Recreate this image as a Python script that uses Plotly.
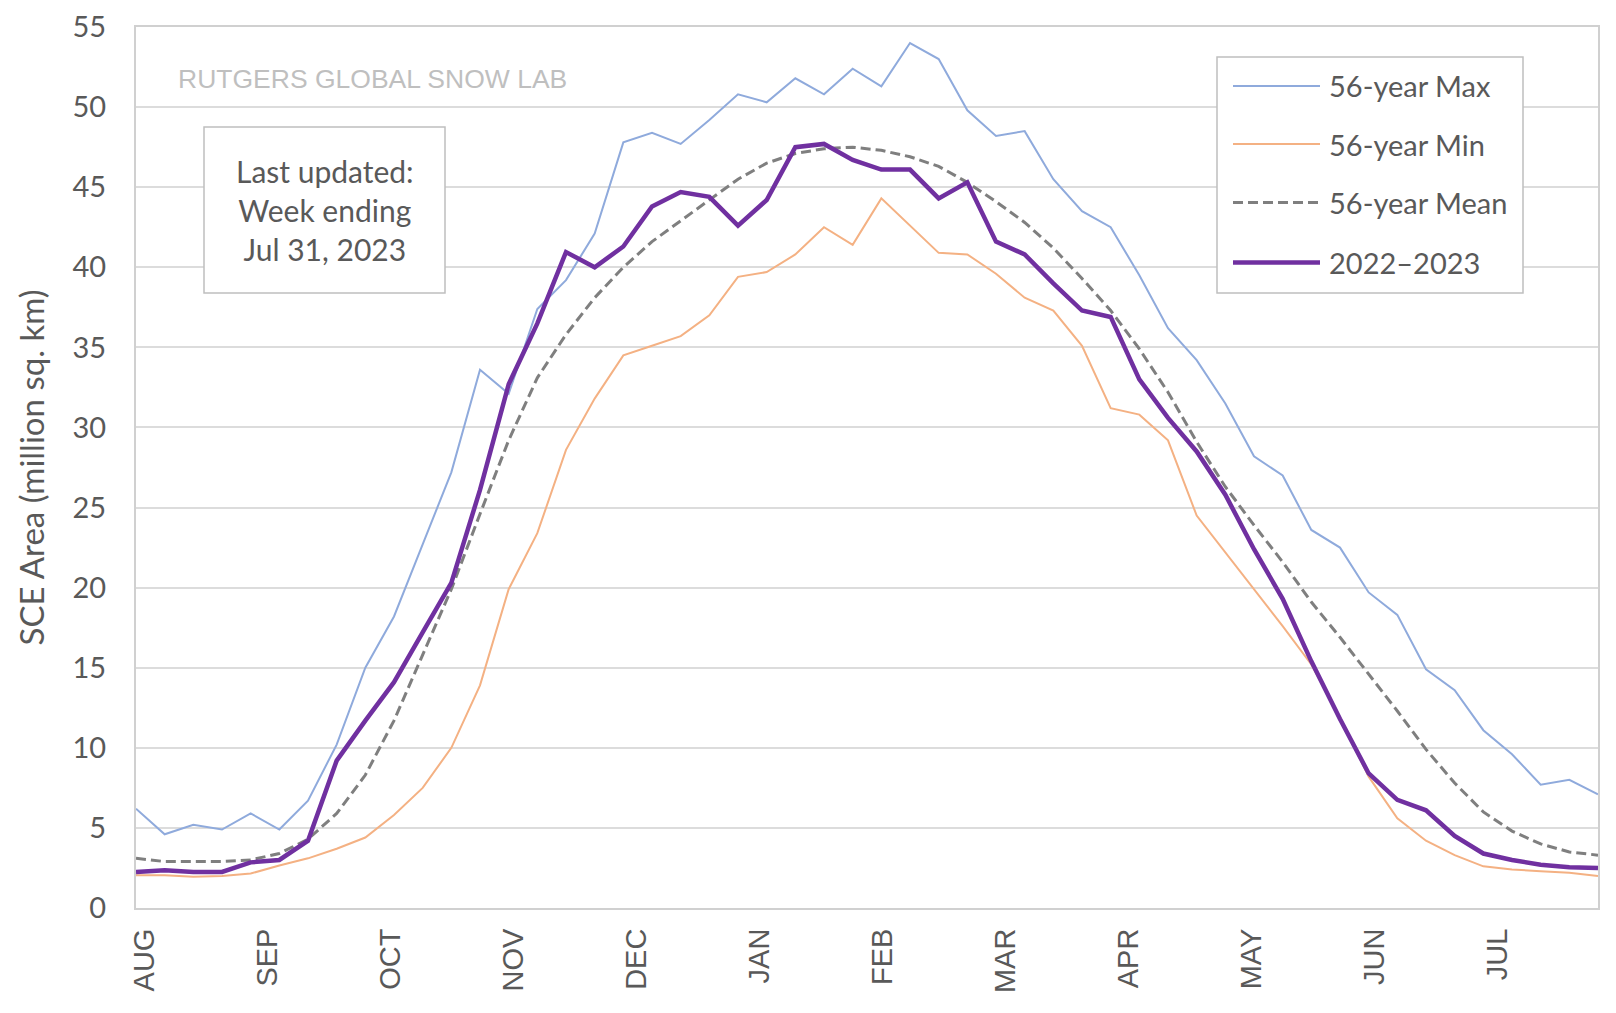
import plotly.graph_objects as go

# ---- data (weekly, Aug -> Jul) ----
months = ["AUG", "SEP", "OCT", "NOV", "DEC", "JAN", "FEB", "MAR", "APR", "MAY", "JUN", "JUL"]

max_56 = [6.2, 4.6, 5.2, 4.9, 5.9, 4.9, 6.7, 10.2, 15.0, 18.2, 22.7, 27.2, 33.6, 32.1,
          37.4, 39.2, 42.1, 47.8, 48.4, 47.7, 49.2, 50.8, 50.3, 51.8, 50.8, 52.4, 51.3,
          54.0, 53.0, 49.8, 48.2, 48.5, 45.5, 43.5, 42.5, 39.5, 36.2, 34.2, 31.5, 28.2,
          27.0, 23.6, 22.5, 19.7, 18.3, 14.9, 13.6, 11.1, 9.6, 7.7, 8.0, 7.1]

min_56 = [2.05, 2.05, 1.95, 2.0, 2.15, 2.65, 3.1, 3.7, 4.4, 5.8, 7.5, 10.0, 13.9, 19.9,
          23.4, 28.6, 31.8, 34.5, 35.1, 35.7, 37.0, 39.4, 39.7, 40.8, 42.5, 41.4, 44.3,
          42.6, 40.9, 40.8, 39.6, 38.1, 37.3, 35.1, 31.2, 30.8, 29.2, 24.5, 22.2, 19.9,
          17.6, 15.2, 11.9, 8.2, 5.6, 4.2, 3.3, 2.6, 2.4, 2.3, 2.2, 2.0]

mean_56 = [3.1, 2.9, 2.9, 2.9, 3.0, 3.4, 4.3, 5.9, 8.3, 11.7, 15.8, 19.9, 24.6, 29.2,
           33.1, 35.8, 38.1, 40.0, 41.6, 42.9, 44.2, 45.5, 46.5, 47.1, 47.4, 47.5, 47.3,
           46.9, 46.3, 45.3, 44.1, 42.8, 41.2, 39.3, 37.3, 34.9, 32.2, 29.1, 26.3, 23.9,
           21.6, 19.1, 16.9, 14.6, 12.3, 9.9, 7.8, 6.0, 4.8, 4.0, 3.5, 3.3]

season_2022_23 = [2.25, 2.35, 2.25, 2.25, 2.85, 3.0, 4.2, 9.2, 11.7, 14.1, 17.2, 20.3,
                  26.1, 32.7, 36.5, 40.95, 40.0, 41.3, 43.8, 44.7, 44.4, 42.6, 44.2,
                  47.5, 47.7, 46.7, 46.1, 46.1, 44.3, 45.3, 41.6, 40.8, 39.0, 37.3, 36.9,
                  33.0, 30.6, 28.5, 25.8, 22.4, 19.3, 15.4, 11.8, 8.4, 6.75, 6.1, 4.5,
                  3.4, 3.0, 2.7, 2.55, 2.5]

series_names = ["56-year Max", "56-year Min", "56-year Mean", "2022\u20132023"]

# ---- styles ----
C_MAX = "#8FAADC"
C_MIN = "#F4B183"
C_MEAN = "#7F7F7F"
C_CUR = "#7030A0"
TXT = "#595959"
FONT = "Lato"
MEAN_DASH = "10px,5px"

styles = [
    dict(color=C_MAX, width=2, dash="solid"),
    dict(color=C_MIN, width=2, dash="solid"),
    dict(color=C_MEAN, width=3, dash=MEAN_DASH),
    dict(color=C_CUR, width=4.5, dash="solid"),
]

weeks = list(range(len(max_56)))
fig = go.Figure()
for name, vals, st in zip(series_names, [max_56, min_56, mean_56, season_2022_23], styles):
    fig.add_trace(go.Scatter(x=weeks, y=vals, mode="lines", name=name,
                             line=st, showlegend=False, hoverinfo="x+y+name"))

tick_pos = [0.29 + 4.29 * k for k in range(len(months))]

# page offset of 8px (body margin) is accounted for in the margins
TOP_M = 19
fig.update_layout(
    width=1616, height=1013,
    margin=dict(l=128, r=26, t=TOP_M, b=113),
    paper_bgcolor="white", plot_bgcolor="white",
    showlegend=False,
    xaxis=dict(range=[0, len(weeks) - 1], tickmode="array", tickvals=tick_pos,
               ticktext=months, tickangle=-90, automargin=False,
               ticklabeloverflow="allow",
               tickfont=dict(family="Liberation Sans, Arial", size=29, color=TXT),
               showgrid=False, zeroline=False, showline=True, linecolor="#D0D0D0",
               linewidth=2, mirror=True, ticks="", ticklabelstandoff=7),
    yaxis=dict(range=[0, 55], dtick=5, tick0=0, gridcolor="#DCDCDC", gridwidth=1.5,
               zeroline=False, showline=True, linecolor="#D0D0D0", linewidth=2,
               mirror=True, ticks="", ticklabelstandoff=22, automargin=False,
               ticklabeloverflow="allow",
               tickfont=dict(family=FONT, size=29, color=TXT),
               title=dict(text="SCE Area (million sq. km)",
                          font=dict(family=FONT, size=33, color=TXT), standoff=18)),
)

PLOT_TOP = 8 + TOP_M          # page pixel of the plot-area top
PLOT_BOTTOM = 908
PLOT_H = PLOT_BOTTOM - PLOT_TOP

def px_x(X):
    return (X - 136) / 1462.0

def px_y(Y):
    return (PLOT_BOTTOM - Y) / PLOT_H

shapes = []
annotations = []

# watermark
annotations.append(dict(text="RUTGERS GLOBAL SNOW LAB", xref="paper", yref="paper",
                        x=px_x(176), y=px_y(79), xanchor="left", yanchor="middle",
                        showarrow=False,
                        font=dict(family="Liberation Sans, Arial", size=26.5, color="#BFBFBF")))

# "last updated" box
shapes.append(dict(type="rect", xref="paper", yref="paper",
                   x0=px_x(204), x1=px_x(445), y0=px_y(293), y1=px_y(127),
                   line=dict(color="#BFBFBF", width=1.5), fillcolor="white", layer="above"))
annotations.append(dict(text="Last updated:<br>Week ending<br>Jul 31, 2023",
                        xref="paper", yref="paper", x=px_x(325), y=px_y(210),
                        xanchor="center", yanchor="middle", align="center", showarrow=False,
                        font=dict(family=FONT, size=30, color=TXT)))

# legend box
shapes.append(dict(type="rect", xref="paper", yref="paper",
                   x0=px_x(1217), x1=px_x(1523), y0=px_y(293), y1=px_y(57),
                   line=dict(color="#BFBFBF", width=1.5), fillcolor="white", layer="above"))
entry_y = [86, 144, 202.5, 262.5]
for name, st, ey in zip(series_names, styles, entry_y):
    shapes.append(dict(type="line", xref="paper", yref="paper",
                       x0=px_x(1233), x1=px_x(1320), y0=px_y(ey), y1=px_y(ey),
                       line=dict(color=st["color"], width=st["width"], dash=st["dash"]),
                       layer="above"))
    annotations.append(dict(text=name, xref="paper", yref="paper", x=px_x(1327), y=px_y(ey),
                            xanchor="left", yanchor="middle", showarrow=False,
                            font=dict(family=FONT, size=29, color=TXT)))

fig.update_layout(shapes=shapes, annotations=annotations)
fig.write_html("out.html")
